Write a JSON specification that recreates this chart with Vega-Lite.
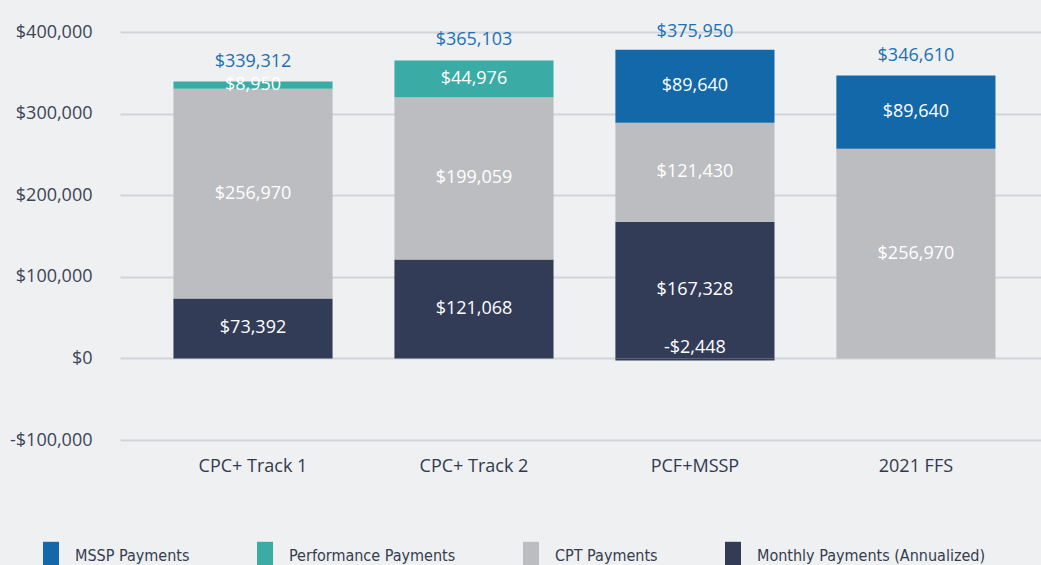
{
  "$schema": "https://vega.github.io/schema/vega-lite/v6.json",
  "width": 921,
  "height": 408,
  "autosize": {"type": "none"},
  "padding": {"left": 120, "top": 32, "right": 0, "bottom": 125},
  "background": "#eff0f1",
  "config": {
    "locale": {"number": {"decimal": ".", "thousands": ",", "grouping": [3], "currency": ["$", ""], "minus": "-"}},
    "view": {"stroke": null},
    "font": "Open Sans"
  },
  "data": {
    "values": [
      {"program": "CPC+ Track 1", "series": "Monthly Payments (Annualized)", "value": 73392},
      {"program": "CPC+ Track 1", "series": "CPT Payments", "value": 256970},
      {"program": "CPC+ Track 1", "series": "Performance Payments", "value": 8950},
      {"program": "CPC+ Track 2", "series": "Monthly Payments (Annualized)", "value": 121068},
      {"program": "CPC+ Track 2", "series": "CPT Payments", "value": 199059},
      {"program": "CPC+ Track 2", "series": "Performance Payments", "value": 44976},
      {"program": "PCF+MSSP", "series": "Monthly Payments (Annualized)", "value": 167328},
      {"program": "PCF+MSSP", "series": "Monthly Payments (Annualized)", "value": -2448},
      {"program": "PCF+MSSP", "series": "CPT Payments", "value": 121430},
      {"program": "PCF+MSSP", "series": "MSSP Payments", "value": 89640},
      {"program": "2021 FFS", "series": "CPT Payments", "value": 256970},
      {"program": "2021 FFS", "series": "MSSP Payments", "value": 89640}
    ]
  },
  "transform": [
    {"calculate": "indexof(['Monthly Payments (Annualized)','CPT Payments','Performance Payments','MSSP Payments'], datum.series)", "as": "ord"}
  ],
  "encoding": {
    "x": {
      "field": "program",
      "type": "nominal",
      "sort": ["CPC+ Track 1", "CPC+ Track 2", "PCF+MSSP", "2021 FFS"],
      "scale": {"paddingInner": 0.28, "paddingOuter": 0.224, "align": 0.54},
      "axis": {"title": null, "labelAngle": 0, "domain": false, "ticks": false, "grid": false, "labelFontSize": 18, "labelColor": "#2f3a4f", "labelPadding": 17}
    }
  },
  "layer": [
    {
      "transform": [
        {"stack": "value", "groupby": ["program"], "sort": [{"field": "ord", "order": "ascending"}], "as": ["y0", "y1"], "offset": "zero"}
      ],
      "mark": {"type": "bar"},
      "encoding": {
        "y": {
          "field": "y0",
          "type": "quantitative",
          "scale": {"domain": [-100000, 400000], "nice": false},
          "axis": {"title": null, "values": [-100000, 0, 100000, 200000, 300000, 400000], "format": "$,.0f", "domain": false, "ticks": false, "labelFontSize": 18, "labelColor": "#3a4558", "labelPadding": 28, "gridColor": "#d3d4da", "gridWidth": 2, "gridOpacity": 1}
        },
        "y2": {"field": "y1"},
        "color": {
          "field": "series",
          "type": "nominal",
          "scale": {
            "domain": ["MSSP Payments", "Performance Payments", "CPT Payments", "Monthly Payments (Annualized)"],
            "range": ["#1268a9", "#3aaca5", "#bcbdc1", "#323c57"]
          },
          "legend": {
            "title": null,
            "orient": "none",
            "legendX": -77,
            "legendY": 516,
            "direction": "horizontal",
            "columns": 4,
            "padding": 0,
            "columnPadding": 67,
            "labelOffset": 16,
            "labelLimit": 0,
            "labelFont": "DejaVu Sans Condensed, Open Sans",
            "labelFontSize": 16,
            "labelColor": "#333d4f",
            "symbolType": "M-1,-1.8H1V1.2H-1Z",
            "symbolSize": 256,
            "symbolStrokeWidth": 0,
            "symbolOpacity": 1
          }
        }
      }
    },
    {
      "transform": [
        {"stack": "value", "groupby": ["program"], "sort": [{"field": "ord", "order": "ascending"}], "as": ["y0", "y1"], "offset": "zero"},
        {"calculate": "(datum.y0 + datum.y1) / 2", "as": "mid"}
      ],
      "mark": {"type": "text", "color": "#ffffff", "fontSize": 18, "baseline": "middle", "dy": {"expr": "datum.value < 0 ? -11 : 0"}},
      "encoding": {
        "y": {"field": "mid", "type": "quantitative", "scale": {"domain": [-100000, 400000], "nice": false}},
        "text": {"field": "value", "type": "quantitative", "format": "$,.0f"}
      }
    },
    {
      "transform": [
        {"aggregate": [{"op": "sum", "field": "value", "as": "total"}], "groupby": ["program"]}
      ],
      "mark": {"type": "text", "color": "#1c70b4", "fontSize": 18, "baseline": "middle", "dy": -20},
      "encoding": {
        "y": {"field": "total", "type": "quantitative", "scale": {"domain": [-100000, 400000], "nice": false}},
        "text": {"field": "total", "type": "quantitative", "format": "$,.0f"}
      }
    }
  ]
}
